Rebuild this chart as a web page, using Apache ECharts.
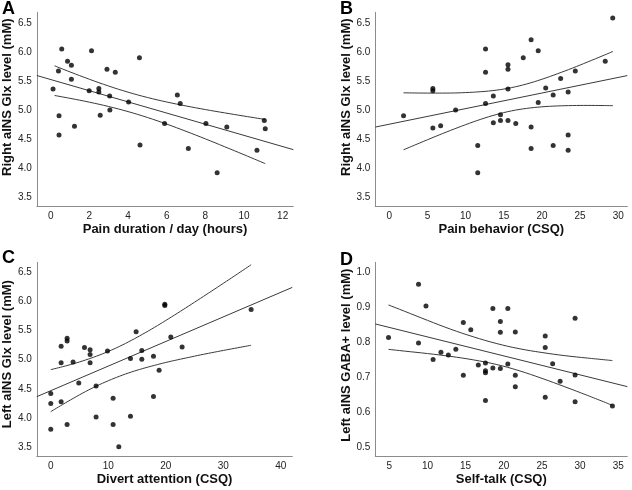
<!DOCTYPE html>
<html><head><meta charset="utf-8">
<script src="https://cdn.jsdelivr.net/npm/echarts@6/dist/echarts.min.js"></script>
<style>html,body{margin:0;padding:0;background:#fff}#c{width:632px;height:490px}</style>
</head><body><div id="c"></div>
<script>
// Panel A: Pain duration / day (hours) vs Right aINS Glx
var aX = [0.12,0.40,0.57,0.43,0.43,0.87,1.07,1.07,1.23,2.11,1.99,2.49,2.49,2.56,2.91,3.05,3.06,3.34,4.03,4.59,4.62,5.89,6.55,6.70,7.12,8.03,8.61,9.11,10.67,11.05,11.10];
var aY = [5.36,5.67,6.05,4.90,4.57,5.84,5.77,5.53,4.72,6.02,5.33,5.37,5.31,4.91,5.70,5.24,5.00,5.65,5.14,5.90,4.40,4.77,5.26,5.11,4.34,4.77,3.92,4.71,4.31,4.82,4.68];
var aFitX = [-0.72, 12.55], aFitY = [5.593, 4.319];
var aCiX = [0.2,1,2,3,4,5,6,7,8,9,10,11.1];
var aUpper = [5.76,5.655,5.529,5.412,5.307,5.216,5.138,5.07,5.008,4.951,4.896,4.838];
var aLower = [5.25,5.201,5.135,5.06,4.973,4.872,4.758,4.634,4.504,4.369,4.232,4.078];

// Panel B: Pain behavior (CSQ) vs Right aINS Glx
var bX = [1.87,5.71,5.71,5.71,6.73,8.69,11.59,11.59,12.61,12.61,12.61,13.63,13.63,14.57,14.57,15.55,15.55,15.55,15.55,16.57,17.55,18.58,18.58,18.58,19.51,19.51,20.49,22.45,21.47,21.47,23.43,23.43,23.43,24.37,28.29,29.27];
var bY = [4.90,5.37,5.33,4.69,4.73,5.00,4.39,3.92,6.05,5.65,5.11,5.24,4.78,4.92,4.82,5.78,5.70,5.36,4.82,4.77,5.90,6.21,4.71,4.34,6.02,5.13,5.38,5.54,5.26,4.39,5.31,4.57,4.31,5.67,5.84,6.58];
var bFitX = [-1.83, 31.18], bFitY = [4.707, 5.592];
var bCiX = [1.87,4,6,8,10,12,14,16,18,20,22,24,26,28,29.3];
var bUpper = [5.296,5.292,5.291,5.292,5.30,5.315,5.341,5.385,5.448,5.529,5.622,5.721,5.827,5.935,6.007];
var bLower = [4.316,4.434,4.543,4.648,4.748,4.841,4.921,4.985,5.028,5.055,5.07,5.077,5.079,5.077,5.075];

// Panel C: Divert attention (CSQ) vs Left aINS Glx
var cX = [0,0,0,1.8,1.8,1.8,2.84,2.84,2.84,3.88,4.87,5.86,6.84,6.84,6.84,7.88,7.88,9.86,10.84,10.84,11.83,13.86,13.86,14.84,15.83,15.83,17.86,17.86,18.84,19.83,19.83,20.87,22.84,34.84];
var cY = [4.42,4.25,3.81,5.23,4.95,4.28,5.37,5.32,3.89,4.96,4.60,5.21,5.17,5.09,4.95,4.55,4.02,5.15,4.34,3.89,3.51,5.02,4.03,5.48,5.16,5.01,5.06,4.37,4.82,5.95,5.93,5.39,5.22,5.86];
var cFitX = [-2.43, 42.0], cFitY = [4.367, 6.240];
var cCiX = [0,2,4,6,8,10,12,14,16,18,20,22,24,26,28,30,32,34.84];
var cUpper = [4.83,4.879,4.933,4.994,5.063,5.142,5.231,5.331,5.439,5.553,5.673,5.796,5.922,6.05,6.179,6.309,6.44,6.628];
var cLower = [4.11,4.229,4.343,4.452,4.551,4.64,4.719,4.789,4.849,4.903,4.953,4.998,5.04,5.082,5.121,5.159,5.196,5.248];

// Panel D: Self-talk (CSQ) vs Left aINS GABA+
var dX = [4.9,8.83,8.83,9.81,10.74,11.77,12.74,13.72,14.70,14.70,15.68,16.66,17.6,17.6,17.6,17.6,18.57,18.57,19.55,19.55,19.55,20.53,20.53,21.51,21.51,21.51,25.43,25.43,25.43,26.4,27.38,29.34,29.34,29.34,34.23];
var dY = [0.814,0.966,0.798,0.904,0.751,0.772,0.764,0.780,0.857,0.706,0.836,0.735,0.741,0.719,0.713,0.634,0.897,0.727,0.860,0.829,0.725,0.897,0.738,0.830,0.706,0.673,0.818,0.785,0.643,0.739,0.689,0.869,0.707,0.630,0.618];
var dFitX = [3.17, 36.18], dFitY = [0.8527, 0.6734];
var dCiX = [4.9,7,10,13,16,19,22,25,28,31,34.23];
var dUpper = [0.907,0.889,0.863,0.838,0.816,0.797,0.782,0.771,0.762,0.755,0.748];
var dLower = [0.780,0.775,0.768,0.760,0.750,0.737,0.719,0.697,0.673,0.648,0.620];

// Tick labels
var aXTicks = [0,2,4,6,8,10,12];
var bXTicks = [0,5,10,15,20,25,30];
var cXTicks = [0,10,20,30,40];
var dXTicks = [5,10,15,20,25,30,35];
var glxTicks = [3.5,4.0,4.5,5.0,5.5,6.0,6.5];
var gabaTicks = [0.5,0.6,0.7,0.8,0.9,1.0];

var FONT = "'Liberation Sans', Arial, sans-serif";
function pairs(xs, ys){ return xs.map(function(x,i){ return [x, ys[i]]; }); }

var panels = [
  {letter:'A', lx:2, ly:0, grid:{left:36.7, top:12.3, width:256.6, height:193.7},
   xmin:-0.72, xmax:12.55, ymin:3.35, ymax:6.68, xt:aXTicks, yt:glxTicks, xName:'Pain duration / day (hours)', yName:'Right aINS Glx level (mM)', yShift:24,
   X:aX, Y:aY, fx:aFitX, fy:aFitY, cx:aCiX, up:aUpper, lo:aLower},
  {letter:'B', lx:340, ly:0, grid:{left:375.3, top:12.3, width:252, height:193.7},
   xmin:-1.83, xmax:31.18, ymin:3.35, ymax:6.68, xt:bXTicks, yt:glxTicks, xName:'Pain behavior (CSQ)', yName:'Right aINS Glx level (mM)', yShift:24,
   X:bX, Y:bY, fx:bFitX, fy:bFitY, cx:bCiX, up:bUpper, lo:bLower},
  {letter:'C', lx:2, ly:249, grid:{left:36.7, top:262.3, width:255.6, height:193.7},
   xmin:-2.43, xmax:42.0, ymin:3.35, ymax:6.67, xt:cXTicks, yt:glxTicks, xName:'Divert attention (CSQ)', yName:'Left aINS Glx level (mM)', yShift:10,
   X:cX, Y:cY, fx:cFitX, fy:cFitY, cx:cCiX, up:cUpper, lo:cLower},
  {letter:'D', lx:340, ly:251, grid:{left:375.3, top:262.3, width:252, height:193.7},
   xmin:3.17, xmax:36.18, ymin:0.475, ymax:1.029, xt:dXTicks, yt:gabaTicks, xName:'Self-talk (CSQ)', yName:'Left aINS GABA+ level (mM)', yShift:8,
   X:dX, Y:dY, fx:dFitX, fy:dFitY, cx:dCiX, up:dUpper, lo:dLower}
];

var option = {animation:false, backgroundColor:'#fff', title:[], grid:[], xAxis:[], yAxis:[], series:[]};
var axisLine = {show:true, onZero:false, lineStyle:{color:'#8c8c8c', width:1}};
var lineStyle = {color:'#3a3a3a', width:1};
panels.forEach(function(p, i){
  option.title.push({text:p.letter, left:p.lx, top:p.ly, padding:0, textStyle:{fontFamily:FONT, fontSize:18, fontWeight:'bold', color:'#000'}});
  option.grid.push(p.grid);
  option.xAxis.push({type:'value', gridIndex:i, min:p.xmin, max:p.xmax, axisLine:axisLine, axisTick:{show:false}, splitLine:{show:false},
    axisLabel:{customValues:p.xt, margin:5, fontFamily:FONT, fontSize:10, color:'#222'},
    name:p.xName, nameLocation:'middle', nameGap:17, nameTextStyle:{fontFamily:FONT, fontSize:13, fontWeight:'bold', color:'#111'}});
  option.yAxis.push({type:'value', gridIndex:i, min:p.ymin, max:p.ymax, axisLine:axisLine, axisTick:{show:false}, splitLine:{show:false},
    axisLabel:{customValues:p.yt, margin:5, fontFamily:FONT, fontSize:10, color:'#222', formatter:function(v){return v.toFixed(1);}},
    name:p.yName, nameLocation:'middle', nameGap:22, nameTextStyle:{fontFamily:FONT, fontSize:13, fontWeight:'bold', color:'#111', padding:[0,0,0,p.yShift]}});
  option.series.push({type:'line', xAxisIndex:i, yAxisIndex:i, data:pairs(p.fx,p.fy), showSymbol:false, lineStyle:lineStyle, silent:true});
  option.series.push({type:'line', xAxisIndex:i, yAxisIndex:i, data:pairs(p.cx,p.up), smooth:0.4, showSymbol:false, lineStyle:lineStyle, silent:true});
  option.series.push({type:'line', xAxisIndex:i, yAxisIndex:i, data:pairs(p.cx,p.lo), smooth:0.4, showSymbol:false, lineStyle:lineStyle, silent:true});
  option.series.push({type:'scatter', xAxisIndex:i, yAxisIndex:i, data:pairs(p.X,p.Y), symbolSize:5, itemStyle:{color:'#000'}, z:5});
});
echarts.init(document.getElementById('c'), null, {renderer:'canvas'}).setOption(option);
</script></body></html>
